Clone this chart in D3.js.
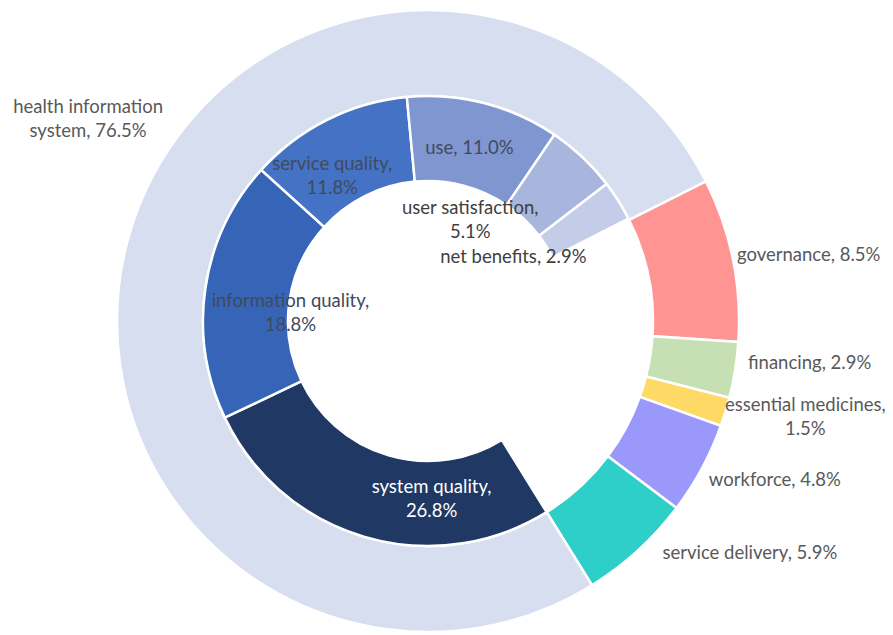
<!DOCTYPE html>
<html>
<head>
<meta charset="utf-8">
<script src="https://cdn.jsdelivr.net/npm/d3@7"></script>
<style>
  html, body { margin: 0; padding: 0; background: #ffffff; }
  svg { display: block; }
  text { font-family: Lato, "Open Sans", sans-serif; }
</style>
</head>
<body>
<svg id="chart" width="893" height="635"></svg>
<script>
// Health-system building blocks (outer ring), in drawing order
const blockNames  = ["governance", "financing", "essential medicines", "workforce", "service delivery", "health information system"];
const blockValues = [8.5, 2.9, 1.5, 4.8, 5.9, 76.5];
const blockColors = ["#ff9593", "#c6e0b4", "#ffd966", "#9b98fb", "#2ecfc9", "#d6def0"];

// Breakdown of the health information system share (inner ring)
const hisNames  = ["system quality", "information quality", "service quality", "use", "user satisfaction", "net benefits"];
const hisValues = [26.8, 18.8, 11.8, 11.0, 5.1, 2.9];
const hisColors = ["#1f3864", "#3665b8", "#4472c4", "#7f96d0", "#a8b5dc", "#c4cde7"];

// Label text split into lines
const blockLabelLines = [
  ["governance, 8.5%"],
  ["financing, 2.9%"],
  ["essential medicines,", "1.5%"],
  ["workforce, 4.8%"],
  ["service delivery, 5.9%"],
  ["health information", "system, 76.5%"]
];
const hisLabelLines = [
  ["system quality,", "26.8%"],
  ["information quality,", "18.8%"],
  ["service quality,", "11.8%"],
  ["use, 11.0%"],
  ["user satisfaction,", "5.1%"],
  ["net benefits, 2.9%"]
];

// Label offsets from each arc's centroid
const blockLabelNudge = [[118, -14], [117, -1], [121, 17], [111, 31], [141, 33], [-82, -130]];
const hisLabelNudge   = [[55, 2], [43, 18], [-14, 17], [-4, 3], [-83, 31], [-69, 32]];
const hisLabelColors  = ["#ffffff", "#404a5e", "#404a5e", "#404a5e", "#404040", "#404040"];

const width = 893, height = 635;
const cx = 428, cy = 321;
const rHole = 140, rMid = 225, rOuter = 311;
const firstAngle = 63.3 * Math.PI / 180;

const svg = d3.select("#chart");
const g = svg.append("g").attr("transform", `translate(${cx},${cy})`);

const total = d3.sum(blockValues);

// Outer ring
const outerPie = d3.pie().sort(null).value(d => d.value)
  .startAngle(firstAngle).endAngle(firstAngle + 2 * Math.PI);
const blocks = blockNames.map((name, i) => ({ name, value: blockValues[i], i }));
const outerArcs = outerPie(blocks);
const outerArc = d3.arc().innerRadius(rMid).outerRadius(rOuter);

g.selectAll("path.outer").data(outerArcs).join("path")
  .attr("class", "outer")
  .attr("d", outerArc)
  .attr("fill", d => blockColors[d.data.i])
  .attr("stroke", "#ffffff")
  .attr("stroke-width", 2.5);

// Inner ring: spans the health information system slice
const hisArc = outerArcs[blockNames.indexOf("health information system")];
const angle = d3.scaleLinear().domain([0, total]).range([0, 2 * Math.PI]);
const innerPie = d3.pie().sort(null).value(d => d.value)
  .startAngle(hisArc.startAngle)
  .endAngle(hisArc.startAngle + angle(d3.sum(hisValues)));
const parts = hisNames.map((name, i) => ({ name, value: hisValues[i], i }));
const innerArcs = innerPie(parts);
const innerArc = d3.arc().innerRadius(rHole).outerRadius(rMid);

g.selectAll("path.inner").data(innerArcs).join("path")
  .attr("class", "inner")
  .attr("d", innerArc)
  .attr("fill", d => hisColors[d.data.i])
  .attr("stroke", "#ffffff")
  .attr("stroke-width", 2.5);

// Labels
const fontSize = 18.5, lineGap = 24;
function drawLabel(parent, pos, lines, color) {
  const t = parent.append("text")
    .attr("text-anchor", "middle")
    .attr("font-size", fontSize)
    .attr("fill", color);
  const n = lines.length;
  lines.forEach((line, k) => {
    t.append("tspan")
      .attr("x", pos[0])
      .attr("y", pos[1] + (k - (n - 1) / 2) * lineGap)
      .attr("dominant-baseline", "central")
      .text(line);
  });
}

const labels = g.append("g");
outerArcs.forEach(d => {
  const c = outerArc.centroid(d);
  const nd = blockLabelNudge[d.data.i];
  drawLabel(labels, [c[0] + nd[0], c[1] + nd[1]], blockLabelLines[d.data.i], "#595959");
});
innerArcs.forEach(d => {
  const c = innerArc.centroid(d);
  const nd = hisLabelNudge[d.data.i];
  drawLabel(labels, [c[0] + nd[0], c[1] + nd[1]], hisLabelLines[d.data.i], hisLabelColors[d.data.i]);
});
</script>
</body>
</html>
